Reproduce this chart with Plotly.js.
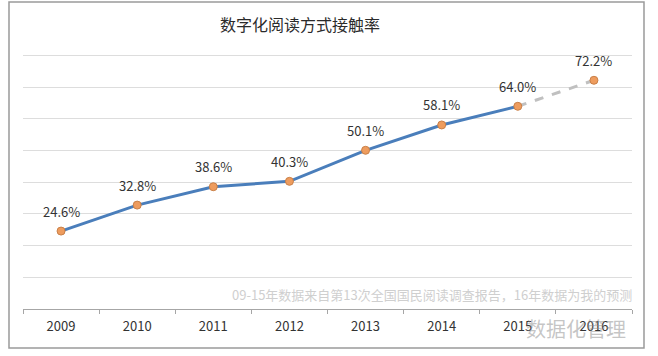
<!DOCTYPE html>
<html>
<head>
<meta charset="utf-8">
<script src="https://cdn.plot.ly/plotly-3.0.1.min.js"></script>
<style>html,body{margin:0;padding:0;background:#fff;}#chart{width:658px;height:356px;}</style>
</head>
<body>
<div id="chart"></div>
<script>
const years = ["2009","2010","2011","2012","2013","2014","2015","2016"];
const rates = [24.6, 32.8, 38.6, 40.3, 50.1, 58.1, 64.0, 72.2];
const labels = ["24.6%","32.8%","38.6%","40.3%","50.1%","58.1%","64.0%","72.2%"];
const actualCount = 7; // 2009-2015 survey data, 2016 is forecast
const titleText = "数字化阅读方式接触率";
const noteText = "09-15年数据来自第13次全国国民阅读调查报告，16年数据为我的预测";
const watermarkText = "数据化管理";

const font = "'Noto Sans CJK SC', 'Noto Sans', sans-serif";

const solid = {
  x: years.slice(0, actualCount), y: rates.slice(0, actualCount),
  type: "scatter", mode: "lines",
  line: {color: "#4A7EBB", width: 3}, hoverinfo: "skip"
};
const dashed = {
  x: years.slice(actualCount - 1), y: rates.slice(actualCount - 1),
  type: "scatter", mode: "lines",
  line: {color: "#C0C0C0", width: 3, dash: "dash"}, hoverinfo: "skip"
};
const markers = {
  x: years, y: rates, type: "scatter", mode: "markers",
  marker: {size: 8, color: "#EE9C5E", line: {color: "#C98048", width: 1}},
  hoverinfo: "skip"
};

// annotations on a category axis: x given as the category index
const annotations = years.map((yr, i) => ({
  x: i, y: rates[i], text: labels[i], showarrow: false,
  yshift: 20, font: {family: font, size: 13, color: "#333333"}
}));
annotations.push({
  xref: "paper", yref: "paper", x: 1.003, y: 0.055, xanchor: "right", yanchor: "middle",
  text: noteText, showarrow: false, font: {family: font, size: 13, color: "#CFCFCF"}
});
annotations.push({
  xref: "paper", yref: "paper", x: 0.908, y: -0.075, xanchor: "center", yanchor: "middle",
  text: watermarkText, showarrow: false, font: {family: font, size: 20, color: "rgba(140,140,140,0.5)"}
});

const layout = {
  width: 658, height: 356,
  margin: {l: 23, r: 26, t: 54, b: 47},
  paper_bgcolor: "#ffffff", plot_bgcolor: "#ffffff",
  showlegend: false,
  title: {text: titleText, x: 0.456, xanchor: "center", xref: "container",
          y: 0.93, yanchor: "middle", yref: "container",
          font: {family: font, size: 16, color: "#2b2b2b"}},
  xaxis: {type: "category", range: [-0.5, years.length - 0.5], autorange: false,
          showgrid: false, showline: true, linecolor: "#A6A6A6", linewidth: 1,
          ticks: "outside", tickson: "boundaries", ticklen: 4, tickcolor: "#A6A6A6", tickangle: 0,
          ticklabelstandoff: 5,
          tickfont: {family: font, size: 13, color: "#333333"}, fixedrange: true},
  yaxis: {range: [0, 80.5], autorange: false, dtick: 10, showgrid: true, gridcolor: "#DDDDDD", gridwidth: 1,
          zeroline: false, showticklabels: false, showline: false, fixedrange: true},
  annotations: annotations,
  shapes: [
    {type: "rect", xref: "paper", yref: "paper", x0: -0.023, x1: 1.0197, y0: -0.153, y1: 1.2043,
     line: {color: "#9A9A9A", width: 1.5}, fillcolor: "rgba(0,0,0,0)", layer: "above"}
  ]
};

Plotly.newPlot("chart", [solid, dashed, markers], layout, {displayModeBar: false, staticPlot: true});
</script>
</body>
</html>
